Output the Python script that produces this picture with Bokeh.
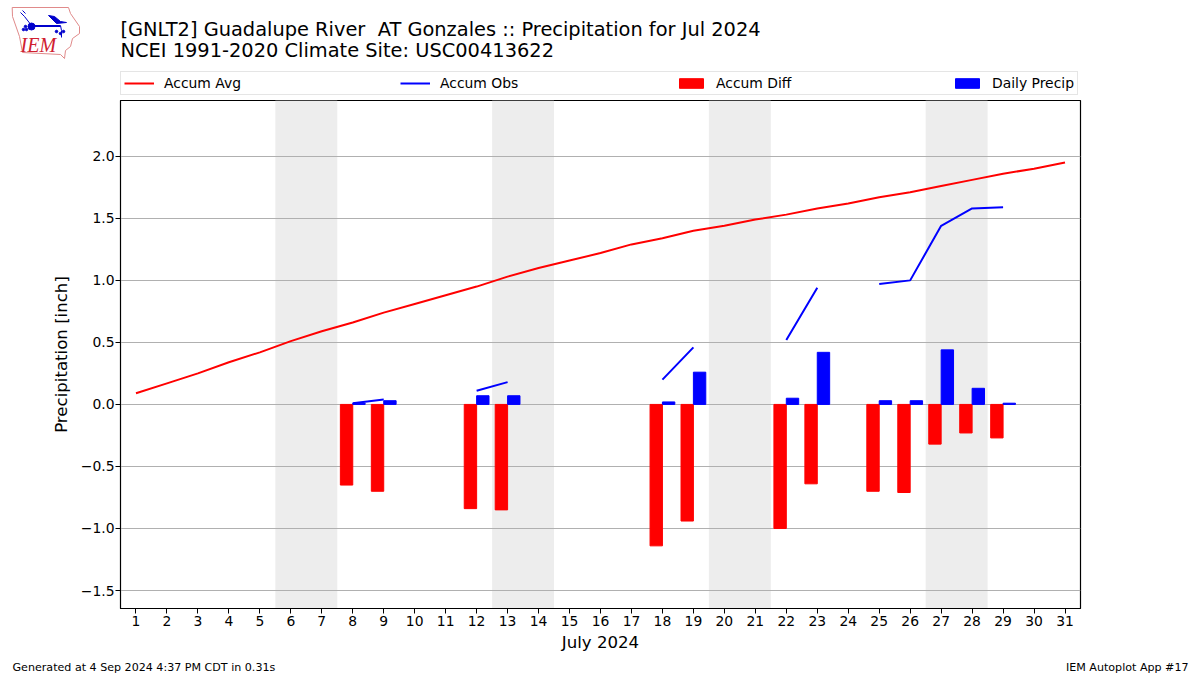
from bokeh.embed import file_html
from bokeh.resources import INLINE
from bokeh.plotting import figure
from bokeh.layouts import column
from bokeh.models import (ColumnDataSource, Range1d, FixedTicker, Legend, LegendItem, Label,
                          BoxAnnotation)
import numpy as np

nan = float("nan")
days = list(range(1, 32))
accum_avg = [0.09, 0.17, 0.25, 0.34, 0.42, 0.51, 0.59, 0.66, 0.74, 0.81, 0.88, 0.95, 1.03, 1.10, 1.16, 1.22,
             1.29, 1.34, 1.40, 1.44, 1.49, 1.53, 1.58, 1.62, 1.67, 1.71, 1.76, 1.81, 1.86, 1.90, 1.95]
accum_obs = [nan]*7 + [0.01, 0.04] + [nan]*2 + [0.11, 0.18] + [nan]*4 + [0.20, 0.46] + [nan]*2 + [0.52, 0.94, nan,
             0.97, 1.00, 1.44, 1.58, 1.59, nan, nan]
accum_diff = [nan]*7 + [-0.65, -0.70] + [nan]*2 + [-0.84, -0.85] + [nan]*4 + [-1.14, -0.94] + [nan]*2 + [-1.00, -0.64, nan,
              -0.70, -0.71, -0.32, -0.23, -0.27, nan, nan]
daily_precip = [nan]*7 + [0.01, 0.03] + [nan]*2 + [0.07, 0.07] + [nan]*4 + [0.02, 0.26] + [nan]*2 + [0.05, 0.42, nan,
                0.03, 0.03, 0.44, 0.13, 0.01, nan, nan]
weekends = [(5.5, 7.5), (12.5, 14.5), (19.5, 21.5), (26.5, 28.5)]
y_ticks = [-1.5, -1.0, -0.5, 0.0, 0.5, 1.0, 1.5, 2.0]
title_lines = ["[GNLT2] Guadalupe River \u00a0AT Gonzales :: Precipitation for Jul 2024",
               "NCEI 1991-2020 Climate Site: USC00413622"]
footer_left = "Generated at 4 Sep 2024 4:37 PM CDT in 0.31s"
footer_right = "IEM Autoplot App #17"
FONT = "DejaVu Sans"
HEADER_H = 99
MAIN_H = 555
FOOTER_H = 21

d = np.array(days, dtype=float)
src = ColumnDataSource(dict(day=d, avg=accum_avg, obs=accum_obs, diff=accum_diff, daily=daily_precip,
                            red_x=d - 0.2, blue_x=d + 0.2, zero=np.zeros(31)))

# ---- main chart
p = figure(width=1200, height=MAIN_H, output_backend="svg", toolbar_location=None,
           x_range=Range1d(0.5, 31.5), y_range=Range1d(-1.645, 2.45), frame_align=False,
           min_border_left=120, min_border_right=120, min_border_top=1, min_border_bottom=46,
           background_fill_color="white", border_fill_color="white")
p.outline_line_color = "black"
p.outline_line_width = 1.2
p.xgrid.visible = False
p.ygrid.grid_line_color = "#b0b0b0"
p.ygrid.grid_line_width = 1.1
p.ygrid.level = "underlay"

for a, b in weekends:
    p.add_layout(BoxAnnotation(left=a, right=b, fill_color="#ededed", fill_alpha=1, line_alpha=0, level="image"))

p.vbar(x="red_x", top="diff", bottom="zero", width=0.4, color="#ff0000", source=src)
p.vbar(x="blue_x", top="daily", bottom="zero", width=0.4, color="#0000ff", source=src)
p.line("day", "avg", line_color="#ff0000", line_width=2, source=src)
p.line("day", "obs", line_color="#0000ff", line_width=2, source=src)

p.xaxis.ticker = FixedTicker(ticks=days)
p.yaxis.ticker = FixedTicker(ticks=y_ticks)
p.yaxis.major_label_overrides = {v: f"{v:.1f}".replace("-", "\u2212") for v in y_ticks}
for ax in (p.xaxis, p.yaxis):
    ax.minor_tick_line_color = None
    ax.major_tick_in = 0
    ax.major_tick_out = 5
    ax.major_tick_line_color = "black"
    ax.axis_line_color = "black"
    ax.major_label_text_font = FONT
    ax.major_label_text_font_size = "13.9px"
    ax.major_label_text_color = "black"
    ax.axis_label_text_font = FONT
    ax.axis_label_text_font_style = "normal"
    ax.axis_label_text_font_size = "16.6px"
    ax.axis_label_text_color = "black"
p.xaxis.axis_label = "July 2024"
p.yaxis.axis_label = "Precipitation [inch]"
p.xaxis.major_label_standoff = 2
p.yaxis.major_label_standoff = 1
p.xaxis.axis_label_standoff = 4
p.yaxis.axis_label_standoff = 7


def page_band(h):
    """A figure whose frame is the whole band, with x and y in its own pixels from the top left."""
    f = figure(width=1200, height=h, output_backend="svg", toolbar_location=None,
               x_range=Range1d(0, 1200), y_range=Range1d(h, 0), frame_align=False,
               min_border_left=0, min_border_right=0, min_border_top=0, min_border_bottom=0)
    f.axis.visible = False
    f.grid.visible = False
    f.outline_line_color = None
    return f


def put(f, t, x, y, size, align="left", font=FONT, color="black", style="normal"):
    f.add_layout(Label(x=x, y=y, text=t, text_font=font, text_font_size=size, text_align=align,
                       text_color=color, text_font_style=style, text_baseline="alphabetic"))


# ---- header: logo, two title lines and the legend
h = page_band(HEADER_H)
put(h, title_lines[0], 120, 29, "19.4px")
put(h, title_lines[1], 120, 50, "19.4px")

RED_S = "#e08a8a"
BLUE_S = "#0000cc"
h.patches([[11.7, 68, 70, 79, 79, 72, 70, 65, 64, 60, 22, 19, 12]],
          [[7, 7, 13, 26, 33, 38, 46, 50, 58, 54, 52, 36, 16]],
          fill_alpha=0, line_color=RED_S, line_width=1)
h.line([30, 60], [25.5, 25.5], line_color=BLUE_S, line_width=2)
h.line([20, 24, 31], [12, 16, 25], line_color=BLUE_S, line_width=1)
h.line([22, 25], [10, 13], line_color=BLUE_S, line_width=1)
h.line([60, 61, 61], [25, 30, 37], line_color=BLUE_S, line_width=1)
h.patches([[48, 54, 60, 66, 56]], [[15, 16, 21, 22, 23]], color=BLUE_S)
h.scatter([31], [26], size=7, color=BLUE_S)
h.scatter([23, 26, 25, 56, 60, 63], [29, 29, 26, 31, 33, 31], size=2.5, color=BLUE_S)
put(h, "IEM", 20, 44, "20px", font="Liberation Serif", color="#d02030", style="italic")

leg_avg = h.line([nan], [nan], line_color="#ff0000", line_width=2)
leg_obs = h.line([nan], [nan], line_color="#0000ff", line_width=2)
leg_diff = h.vbar(x=[nan], top=[nan], width=0.4, color="#ff0000")
leg_daily = h.vbar(x=[nan], top=[nan], width=0.4, color="#0000ff")
legend = Legend(items=[LegendItem(label="Accum Avg", renderers=[leg_avg]),
                       LegendItem(label="Accum Obs", renderers=[leg_obs]),
                       LegendItem(label="Accum Diff", renderers=[leg_diff]),
                       LegendItem(label="Daily Precip", renderers=[leg_daily])],
                orientation="horizontal", location=(120, 4), spacing=154, margin=0,
                padding=3, glyph_width=30, glyph_height=12, label_height=13, label_width=82, label_standoff=10,
                label_text_font=FONT, label_text_font_size="13.9px", label_text_color="black",
                border_line_color="#cccccc", border_line_width=1, background_fill_alpha=1)
h.add_layout(legend, "center")

# ---- footer
f = page_band(FOOTER_H)
put(f, footer_left, 12, 13, "11.1px")
put(f, footer_right, 1188, 13, "11.1px", align="right")

page = column(h, p, f, spacing=0)
open("out.html", "w").write(file_html(page, INLINE))
